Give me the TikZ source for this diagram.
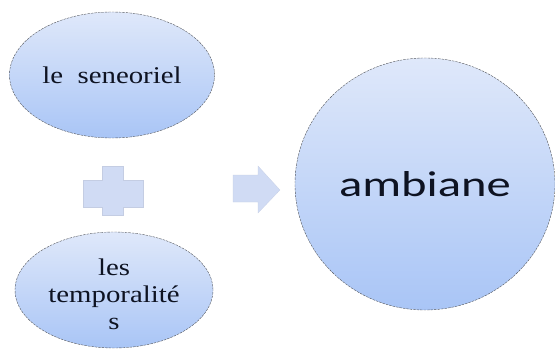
\documentclass[tikz,border=0pt]{standalone}
\usepackage{graphicx}
\usepackage{fontspec}
\setmainfont{Liberation Serif}
\newfontfamily\calibrifont{Carlito}
\usetikzlibrary{shapes.geometric}
\newcommand{\wtxt}[2]{\scalebox{#1}[1]{#2}}
\definecolor{paleblue}{HTML}{DFE8FA}
\definecolor{midblue}{HTML}{A9C5F6}
\definecolor{plusblue}{HTML}{D0DBF4}
\definecolor{rimgray}{HTML}{55585E}
\definecolor{inkblue}{HTML}{0E1322}

\begin{document}
\begin{tikzpicture}[x=1pt, y=-1pt,
  bubble/.style={ellipse, inner sep=0pt, top color=paleblue, bottom color=midblue,
    draw=rimgray, thin, dash pattern=on 2.5pt off 1pt, text=inkblue},
  sign/.style={fill=plusblue, draw=plusblue!85!gray, very thin},
  ]
\useasboundingbox (0,0) rectangle (555,356);

\node[bubble, minimum width=205pt, minimum height=126pt,
  font=\fontsize{24}{27}\selectfont](sens) at (112,75)
  {\wtxt{1.2}{le\ \ seneoriel}};
\node[bubble, minimum width=198pt, minimum height=116pt,
  font=\fontsize{24}{27}\selectfont](temps) at (114,290)
  {\raisebox{-13pt}[0pt][0pt]{\begin{tabular}{@{}c@{}}\wtxt{1.2}{les}\\\wtxt{1.2}{temporalit\'e}\\\wtxt{1.2}{s}\end{tabular}}};
\node[bubble, minimum width=260pt, minimum height=252pt,
  font=\calibrifont\fontsize{36}{40}\selectfont](amb) at (425,184)
  {\wtxt{1.35}{ambiane}};

% plus sign between the two ellipses
\path[sign] (102,166) -- (123,166) -- (123,180) -- (143,180) -- (143,207) -- (123,207)
  -- (123,215) -- (102,215) -- (102,207) -- (83,207) -- (83,180) -- (102,180) -- cycle;

% block arrow towards the circle
\path[sign] (233,175) -- (258,175) -- (258,166) -- (280,190) -- (258,213)
  -- (258,202) -- (233,202) -- cycle;

\end{tikzpicture}
\end{document}
